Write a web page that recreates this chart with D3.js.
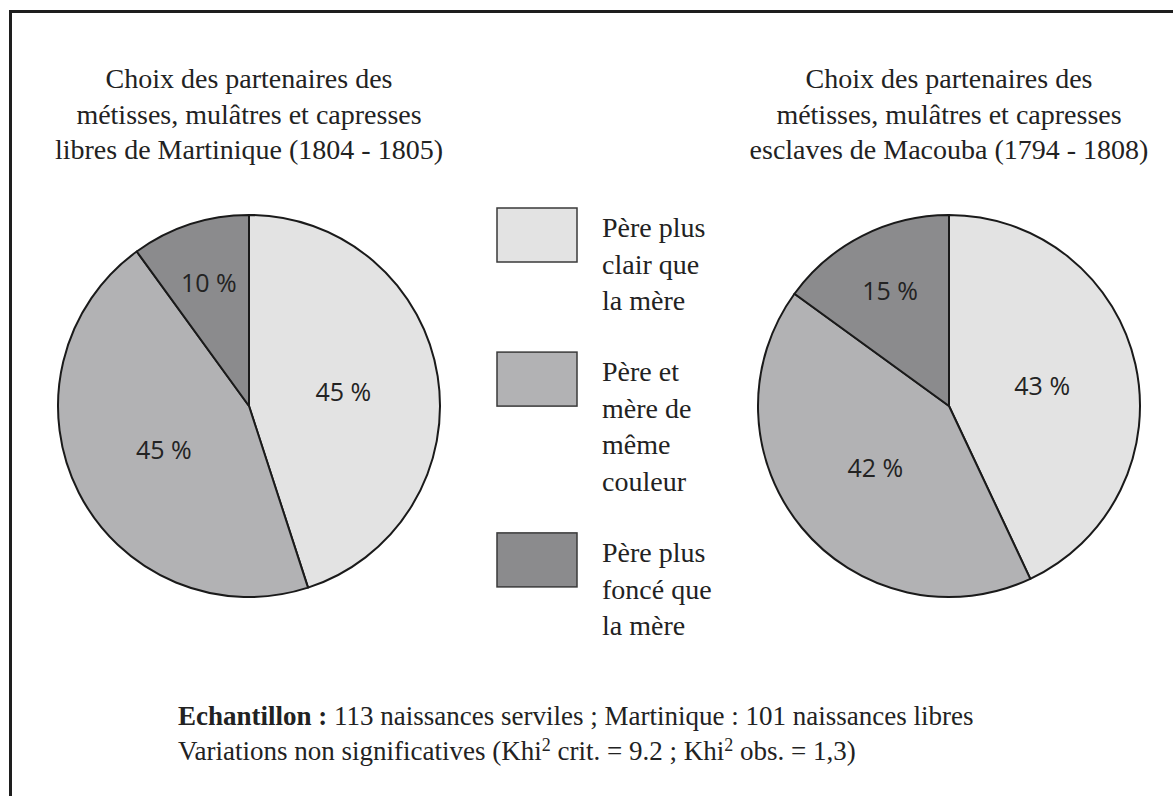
<!DOCTYPE html>
<html>
<head>
<meta charset="utf-8">
<script src="https://cdn.jsdelivr.net/npm/d3@7"></script>
<style>
  body { margin: 0; background: #fff; }
  svg { display: block; }
</style>
</head>
<body>
<div id="chart"></div>
<script>
const width = 1173;
const height = 796;

// categories (legend) and the two series
const categories = ['clair', 'meme', 'fonce'];
const legendLabels = [
    ['Père plus', 'clair que', 'la mère'],
    ['Père et', 'mère de', 'même', 'couleur'],
    ['Père plus', 'foncé que', 'la mère']
];
const libresValues = [45, 45, 10];
const esclavesValues = [43, 42, 15];
const titleLibres = ['Choix des partenaires des', 'métisses, mulâtres et capresses', 'libres de Martinique (1804 - 1805)'];
const titleEsclaves = ['Choix des partenaires des', 'métisses, mulâtres et capresses', 'esclaves de Macouba (1794 - 1808)'];
const shades = ['#e3e3e3', '#b2b2b4', '#8b8b8d'];

const svg = d3.select('#chart')
    .append('svg')
    .attr('width', width)
    .attr('height', height);

svg.append('rect')
    .attr('width', width)
    .attr('height', height)
    .attr('fill', '#fff');

// frame (only top and left edges are inside the picture)
svg.append('rect')
    .attr('x', 10.5)
    .attr('y', 11.5)
    .attr('width', width + 20)
    .attr('height', height + 20)
    .attr('fill', 'none')
    .attr('stroke', '#1e1e1e')
    .attr('stroke-width', 3);

const color = d3.scaleOrdinal().domain(categories).range(shades);
const radius = 191;

const pie = d3.pie().sort(null).value(d => d.value);
const arc = d3.arc().innerRadius(0).outerRadius(radius);

function drawPie(cx, cy, values, title) {
    const data = categories.map((c, i) => ({ key: c, value: values[i] }));
    const g = svg.append('g').attr('transform', `translate(${cx},${cy})`);

    g.selectAll('path')
        .data(pie(data))
        .join('path')
        .attr('d', arc)
        .attr('fill', d => color(d.data.key))
        .attr('stroke', '#1a1a1a')
        .attr('stroke-width', 2)
        .attr('stroke-linejoin', 'round');

    // small slices get their label pushed outward
    g.selectAll('text')
        .data(pie(data))
        .join('text')
        .attr('transform', d => {
            const r = d.data.value < 20 ? radius * 0.68 : radius * 0.5;
            const c = d3.arc().innerRadius(r).outerRadius(r).centroid(d);
            return `translate(${c})`;
        })
        .attr('text-anchor', 'middle')
        .attr('dominant-baseline', 'central')
        .style('font-family', '"Open Sans", "Noto Sans", sans-serif')
        .style('font-size', '25px')
        .attr('fill', '#232323')
        .text(d => d.data.value + ' %');

    svg.append('text')
        .attr('x', cx)
        .attr('y', 88)
        .attr('text-anchor', 'middle')
        .style('font-family', '"Liberation Serif", "Times New Roman", serif')
        .style('font-size', '28px')
        .attr('fill', '#222')
        .selectAll('tspan')
        .data(title)
        .join('tspan')
        .attr('x', cx)
        .attr('dy', (d, i) => i === 0 ? 0 : 35.5)
        .text(d => d);
}

drawPie(249, 406, libresValues, titleLibres);
drawPie(949, 406, esclavesValues, titleEsclaves);

// legend
const lineH = 36.7;
const legend = svg.append('g').attr('transform', 'translate(497,208)');
let y = 0;
categories.forEach((c, i) => {
    const item = legend.append('g').attr('transform', `translate(0,${y})`);
    item.append('rect')
        .attr('width', 80)
        .attr('height', 54)
        .attr('fill', color(c))
        .attr('stroke', '#3a3a3a')
        .attr('stroke-width', 1.5);
    item.append('text')
        .attr('x', 105)
        .attr('y', 29)
        .style('font-family', '"Liberation Serif", "Times New Roman", serif')
        .style('font-size', '28px')
        .attr('fill', '#222')
        .selectAll('tspan')
        .data(legendLabels[i])
        .join('tspan')
        .attr('x', 105)
        .attr('dy', (d, j) => j === 0 ? 0 : lineH)
        .text(d => d);
    y += legendLabels[i].length * lineH + 34;
});

// footnote
const note = svg.append('g')
    .style('font-family', '"Liberation Serif", "Times New Roman", serif')
    .style('font-size', '27px')
    .attr('fill', '#222');

const l1 = note.append('text').attr('x', 178).attr('y', 725);
l1.append('tspan').attr('font-weight', 'bold').text('Echantillon :');
l1.append('tspan').text(' 113 naissances serviles ; Martinique : 101 naissances libres');

const l2 = note.append('text').attr('x', 178).attr('y', 760);
l2.append('tspan').text('Variations non significatives (Khi');
l2.append('tspan').attr('dy', -9).style('font-size', '18px').text('2');
l2.append('tspan').attr('dy', 9).text(' crit. = 9.2 ; Khi');
l2.append('tspan').attr('dy', -9).style('font-size', '18px').text('2');
l2.append('tspan').attr('dy', 9).text(' obs. = 1,3)');
</script>
</body>
</html>
